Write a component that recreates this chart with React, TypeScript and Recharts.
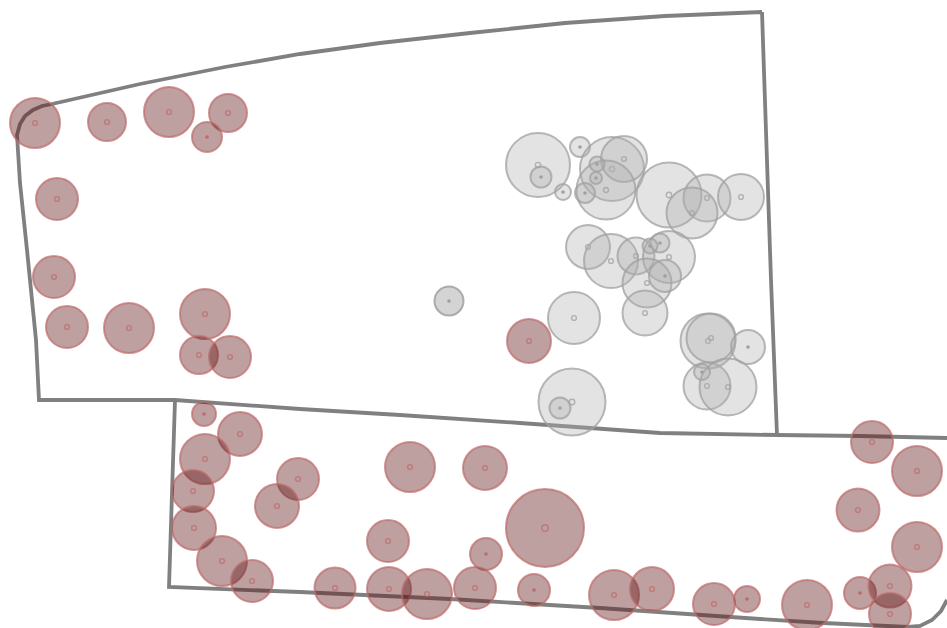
import { ScatterChart, Scatter, XAxis, YAxis, ZAxis } from "recharts";

// parcels outlines, in the picture's own units
const upperOutlineX = [762, 665, 565, 470, 380, 300, 225, 140, 52, 42, 33, 25, 20, 17, 20, 27, 36, 39, 100, 175, 300, 400, 520, 660, 777, 771, 762];
const upperOutlineY = [12, 16, 23, 33, 43, 54, 67, 84, 104, 106, 110, 116, 124, 135, 183, 250, 340, 400, 400, 400, 409, 415, 423, 433, 435, 280, 12];
const lowerOutlineX = [175, 169, 300, 450, 600, 760, 823, 908, 920, 932, 941, 947];
const lowerOutlineY = [400, 587, 592, 599, 608, 619, 623, 627, 626, 620, 611, 600];
const rightEdgeX = [777, 860, 947];
const rightEdgeY = [435, 436, 438];

const redX = [35, 107, 169, 228, 207, 57, 54, 67, 129, 205, 199, 230, 529, 204, 240, 205, 193, 194, 222, 252, 298, 277, 410, 388, 335, 389, 427, 485, 486, 545, 475, 534, 614, 652, 714, 747, 807, 860, 890, 890, 872, 917, 858, 917];
const redY = [123, 122, 112, 113, 137, 199, 277, 327, 328, 314, 355, 357, 341, 414, 434, 459, 491, 528, 561, 581, 479, 506, 467, 541, 588, 589, 594, 468, 554, 528, 588, 590, 595, 589, 604, 599, 605, 593, 586, 614, 442, 471, 510, 547];
const redR = [25, 19, 25, 19, 15, 21, 21, 21, 25, 25, 19, 21, 22, 12, 22, 25, 21, 22, 25, 21, 21, 22, 25, 21, 20.5, 22, 25, 22, 16, 39, 21, 16, 25, 22, 21, 13, 25, 16, 21.5, 21, 21, 25, 21.5, 25];

const grayX = [538, 541, 580, 563, 612, 624, 606, 597, 596, 585, 669, 707, 692, 741, 588, 611, 636, 669, 660, 650, 647, 665, 574, 645, 708, 711, 748, 707, 728, 702, 572, 560];
const grayY = [165, 177, 147, 192, 169, 159, 190, 164, 178, 193, 195, 198, 213, 197, 247, 261, 256, 257, 243, 246, 283, 276, 318, 313, 341, 338, 347, 386, 387, 372, 402, 408];
const grayR = [32, 10.5, 10, 8, 32, 23, 29.5, 7.5, 6, 10, 32.5, 23.5, 25.5, 23, 22, 27, 18.5, 26, 9.5, 7.5, 24.5, 16, 26, 22.5, 27.5, 24.5, 17, 23.5, 28.5, 8, 33.5, 10.5];

// the lone one in the middle is a shade darker than the others
const loneX = [449];
const loneY = [301];
const loneR = [14.5];

const toLine = (xs: number[], ys: number[]) => xs.map((x, i) => ({ x, y: ys[i] }));
const toBubbles = (xs: number[], ys: number[], rs: number[]) =>
  xs.map((x, i) => ({ x, y: ys[i], area: Math.PI * rs[i] * rs[i] }));

const noMark = () => <g />;

function bubble(fill: string, fillOpacity: number, stroke: string, strokeOpacity: number) {
  return (props: any) => {
    const r = Math.sqrt(props.size / Math.PI);
    const small = r <= 17;
    return (
      <g>
        <circle cx={props.cx} cy={props.cy} r={r} fill={fill} fillOpacity={fillOpacity} stroke={stroke} strokeOpacity={strokeOpacity} strokeWidth={2} />
        <circle
          cx={props.cx}
          cy={props.cy}
          r={small ? 1.6 : Math.max(2.4, r / 12)}
          fill={small ? stroke : "none"}
          stroke={stroke}
          strokeOpacity={strokeOpacity}
          strokeWidth={small ? 0.5 : 1.4}
        />
      </g>
    );
  };
}

const outline = { stroke: "#808080", strokeWidth: 3.8 };

export default function App() {
  return (
    <div style={{ position: "absolute", left: 0, top: 0 }}>
      <ScatterChart width={947} height={628} margin={{ top: 0, right: 0, bottom: 0, left: 0 }}>
        <XAxis type="number" dataKey="x" domain={[0, 947]} hide />
        <YAxis type="number" dataKey="y" domain={[0, 628]} reversed hide />
        <ZAxis type="number" dataKey="area" domain={[0, 5000]} range={[0, 5000]} />
        <Scatter data={toLine(upperOutlineX, upperOutlineY)} line={outline} shape={noMark} isAnimationActive={false} />
        <Scatter data={toLine(lowerOutlineX, lowerOutlineY)} line={outline} shape={noMark} isAnimationActive={false} />
        <Scatter data={toLine(rightEdgeX, rightEdgeY)} line={outline} shape={noMark} isAnimationActive={false} />
        <Scatter data={toBubbles(grayX, grayY, grayR)} shape={bubble("#b0b0b0", 0.35, "#a0a0a0", 0.75)} isAnimationActive={false} />
        <Scatter data={toBubbles(loneX, loneY, loneR)} shape={bubble("#b0b0b0", 0.55, "#a0a0a0", 0.85)} isAnimationActive={false} />
        <Scatter data={toBubbles(redX, redY, redR)} shape={bubble("#5d1111", 0.4, "#bd6a6a", 0.7)} isAnimationActive={false} />
      </ScatterChart>
    </div>
  );
}
